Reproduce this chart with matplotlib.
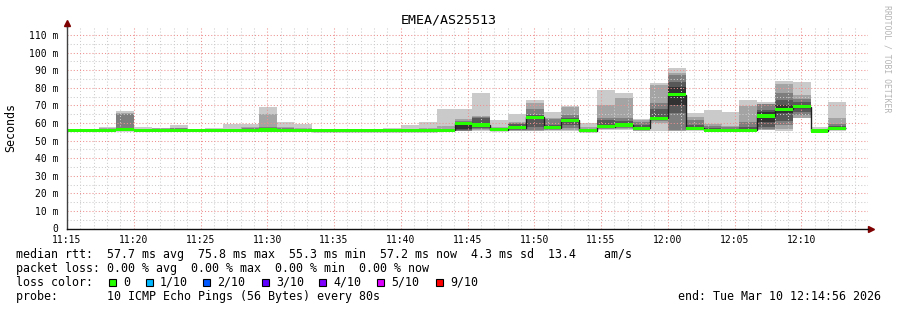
#SmokePing style latency graph for EMEA/AS25513, redrawn with matplotlib.

#importing all libraries which will be used.
import numpy as np
import matplotlib
matplotlib.use("Agg")
import matplotlib.pyplot as plt
from matplotlib.patches import Rectangle
from matplotlib.ticker import MultipleLocator, FixedLocator, FuncFormatter

#The data.
title = "EMEA/AS25513"
first_bin = "11:14:42"
step_seconds = 80

#10 sorted ping rtts (ms) for every 80 s bin.
ping_rtt = [
    [55.4, 55.5, 55.6, 55.7, 55.8, 55.8, 55.9, 56.0, 56.1, 56.2],
    [55.3, 55.4, 55.5, 55.6, 55.7, 55.8, 55.9, 56.0, 56.2, 56.8],
    [55.4, 55.5, 55.6, 55.7, 55.8, 55.9, 56.2, 56.8, 57.3, 57.6],
    [55.2, 55.5, 55.7, 55.9, 56.0, 56.2, 57.0, 64.9, 65.8, 66.8],
    [55.4, 55.5, 55.6, 55.7, 55.8, 55.9, 56.0, 56.3, 56.8, 57.7],
    [55.4, 55.5, 55.6, 55.7, 55.8, 55.9, 56.1, 56.6, 57.1, 57.3],
    [55.4, 55.5, 55.6, 55.7, 55.8, 55.9, 56.1, 56.9, 57.4, 58.8],
    [55.4, 55.5, 55.6, 55.7, 55.8, 55.8, 55.9, 56.0, 56.1, 56.2],
    [55.3, 55.4, 55.5, 55.6, 55.7, 55.8, 55.9, 56.1, 56.5, 57.3],
    [55.3, 55.4, 55.5, 55.6, 55.7, 55.8, 55.9, 56.2, 56.8, 59.4],
    [55.4, 55.5, 55.6, 55.7, 55.8, 55.9, 56.1, 56.9, 57.6, 59.4],
    [55.3, 55.5, 55.6, 55.7, 55.8, 56.0, 56.5, 57.7, 65.0, 69.0],
    [55.3, 55.4, 55.6, 55.7, 55.8, 55.9, 56.2, 57.0, 57.7, 60.5],
    [55.3, 55.4, 55.5, 55.6, 55.7, 55.8, 56.0, 56.5, 57.0, 59.4],
    [55.3, 55.4, 55.5, 55.6, 55.7, 55.7, 55.8, 55.9, 56.0, 56.1],
    [55.3, 55.4, 55.5, 55.6, 55.7, 55.7, 55.8, 55.9, 56.0, 56.1],
    [55.3, 55.4, 55.5, 55.6, 55.7, 55.7, 55.8, 55.9, 56.0, 56.2],
    [55.3, 55.4, 55.5, 55.6, 55.7, 55.7, 55.8, 55.9, 56.1, 56.7],
    [55.3, 55.4, 55.5, 55.6, 55.7, 55.7, 55.8, 56.0, 56.3, 57.0],
    [55.3, 55.4, 55.5, 55.6, 55.7, 55.8, 55.9, 56.2, 56.8, 58.8],
    [55.3, 55.4, 55.5, 55.6, 55.7, 55.8, 56.0, 56.5, 57.0, 60.5],
    [55.3, 55.4, 55.5, 55.6, 55.7, 55.8, 56.1, 56.8, 58.5, 67.9],
    [55.2, 55.4, 55.6, 56.0, 56.5, 60.2, 60.5, 61.0, 62.0, 67.9],
    [55.4, 55.8, 56.3, 56.9, 58.5, 59.2, 62.6, 63.3, 63.9, 77.0],
    [55.3, 55.5, 55.8, 56.0, 56.2, 56.5, 57.0, 57.3, 57.6, 61.6],
    [55.4, 55.7, 56.0, 56.5, 57.0, 57.6, 59.5, 60.0, 60.5, 65.2],
    [55.4, 55.7, 56.2, 57.8, 62.5, 63.8, 64.5, 68.0, 71.3, 73.0],
    [55.5, 56.0, 56.5, 57.0, 57.2, 57.5, 59.0, 62.0, 63.0, 66.2],
    [55.5, 56.0, 57.0, 58.8, 61.0, 62.0, 63.0, 64.5, 69.2, 69.6],
    [55.2, 55.4, 55.5, 55.6, 55.7, 55.9, 56.2, 56.8, 57.5, 59.8],
    [55.8, 56.5, 57.0, 57.5, 57.8, 58.5, 61.5, 63.0, 70.2, 78.7],
    [56.0, 56.5, 57.0, 57.6, 58.2, 59.2, 61.0, 63.0, 74.3, 76.8],
    [55.5, 55.7, 56.0, 56.3, 56.6, 57.6, 59.0, 60.7, 61.5, 62.2],
    [55.4, 59.8, 61.0, 61.8, 62.4, 63.2, 67.9, 71.5, 81.5, 82.7],
    [55.5, 55.7, 56.0, 65.5, 70.2, 80.6, 83.4, 87.2, 88.2, 91.2],
    [55.5, 55.8, 56.0, 56.3, 56.6, 57.5, 59.0, 61.5, 63.5, 65.5],
    [55.2, 55.4, 55.5, 55.6, 55.7, 55.9, 57.0, 58.5, 59.2, 67.3],
    [55.2, 55.4, 55.5, 55.6, 55.7, 55.9, 56.5, 57.5, 58.5, 66.2],
    [55.3, 55.5, 55.6, 55.7, 55.8, 56.0, 57.5, 60.7, 69.8, 73.0],
    [55.8, 56.0, 56.5, 57.8, 60.7, 66.0, 67.5, 70.6, 71.0, 71.7],
    [55.6, 56.3, 58.8, 61.0, 65.5, 70.0, 73.0, 76.8, 82.1, 83.8],
    [62.6, 63.0, 64.5, 66.0, 68.5, 70.0, 72.0, 73.4, 75.9, 83.0],
    [55.2, 55.3, 55.4, 55.5, 55.5, 55.6, 55.7, 55.9, 56.5, 57.8],
    [55.5, 55.8, 56.2, 56.5, 56.8, 57.3, 58.0, 59.2, 63.0, 72.0],
]

median_rtt = [
    55.8, 55.8, 55.8, 56.1, 55.8, 55.8, 55.8, 55.8, 55.8, 55.8,
    55.8, 55.9, 55.8, 55.8, 55.7, 55.7, 55.7, 55.7, 55.7, 55.7,
    55.7, 55.8, 59.8, 58.8, 56.2, 57.3, 63.2, 57.3, 61.5, 55.7,
    57.9, 58.8, 57.0, 62.7, 76.0, 57.0, 55.8, 55.8, 55.8, 63.9,
    67.8, 69.3, 55.5, 57.0,
]

time_labels = ["11:15", "11:20", "11:25", "11:30", "11:35", "11:40",
               "11:45", "11:50", "11:55", "12:00", "12:05", "12:10"]

loss_labels = ["0", "1/10", "2/10", "3/10", "4/10", "5/10", "9/10"]
loss_colors = ["#26ff00", "#00b8ff", "#0059ff", "#5e00ff", "#7e00ff", "#dd00ff", "#ff0000"]

legend_rtt = "median rtt:  57.7 ms avg  75.8 ms max  55.3 ms min  57.2 ms now  4.3 ms sd  13.4    am/s"
legend_loss = "packet loss: 0.00 % avg  0.00 % max  0.00 % min  0.00 % now"
legend_probe = "probe:       10 ICMP Echo Pings (56 Bytes) every 80s"
legend_end = "end: Tue Mar 10 12:14:56 2026"

#smoke colours, outer band first
smoke_colors = ["#cacaca", "#a4a4a4", "#7e7e7e", "#585858", "#323232"]

W, H = 897, 310
MONO = "DejaVu Sans Mono"

#bin edges in minutes after 11:15
hh, mm, ss = [int(v) for v in first_bin.split(":")]
start_min = (hh * 60 + mm + ss / 60.0) - (11 * 60 + 15)
edges = start_min + np.arange(len(median_rtt) + 1) * step_seconds / 60.0

pings = np.array(ping_rtt)
median = np.array(median_rtt)

fig = plt.figure(figsize=(W / 100, H / 100), dpi=100)
fig.patch.set_facecolor("white")

ax_left, ax_right, ax_top, ax_bottom = 67, 868, 26.7, 228.5
ax = fig.add_axes([ax_left / W, 1 - ax_bottom / H,
                   (ax_right - ax_left) / W, (ax_bottom - ax_top) / H])

#smoke bands
for i in range(5):
    ax.stairs(pings[:, 9 - i], edges, baseline=pings[:, i], fill=True,
              color=smoke_colors[i], lw=0, zorder=2)

#grid lines over the smoke, like rrdtool
ax.set_xlim(0, 60)
ax.set_ylim(0, 114.7)
ax.xaxis.set_major_locator(MultipleLocator(5))
ax.xaxis.set_minor_locator(MultipleLocator(1))
ax.yaxis.set_major_locator(MultipleLocator(10))
ax.yaxis.set_minor_locator(MultipleLocator(5))
ax.grid(True, which="minor", color="#cccccc", lw=0.75, ls=(0, (1, 2)), zorder=3)
ax.grid(True, which="major", color="#ee9090", lw=0.75, ls=(0, (1, 2)), zorder=3)
ax.set_axisbelow(False)

#median line and the loss coloured band on top
ax.stairs(median, edges, baseline=None, color="#202020", lw=1.0, zorder=4)
ax.stairs(median + 0.95, edges, baseline=median - 0.95, fill=True,
          color=loss_colors[0], lw=0, zorder=5)

ax.xaxis.set_major_locator(FixedLocator(np.arange(len(time_labels)) * 5))
ax.set_xticklabels(time_labels)
ax.yaxis.set_major_formatter(FuncFormatter(lambda v, p: "0" if v == 0 else "%d m" % v))
ax.tick_params(which="both", length=0)
ax.tick_params(axis="y", pad=6, labelsize=7)
ax.tick_params(axis="x", pad=4.5, labelsize=7)
for lab in ax.get_xticklabels() + ax.get_yticklabels():
    lab.set_family(MONO)

for side in ["top", "right"]:
    ax.spines[side].set_visible(False)
ax.spines["left"].set_color("#404040")
ax.spines["bottom"].set_color("#101010")
ax.spines["left"].set_linewidth(1.0)
ax.spines["bottom"].set_linewidth(1.0)
ax.spines["left"].set_zorder(6)
ax.spines["bottom"].set_zorder(6)

#axis arrows
ax.plot([1.0, 1.004], [0, 0], color="#101010", lw=1.0, transform=ax.transAxes, clip_on=False)
ax.plot([1.004], [0], marker=">", ms=4, color="#7f0000", transform=ax.transAxes, clip_on=False)
ax.plot([0, 0], [1.0, 1.02], color="#404040", lw=1.0, transform=ax.transAxes, clip_on=False)
ax.plot([0], [1.02], marker="^", ms=4, color="#7f0000", transform=ax.transAxes, clip_on=False)

#titles
fig.text(0.5, 1 - 20 / H, title, ha="center", va="center", family=MONO, fontsize=9.6)
fig.text(11 / W, 1 - 127 / H, "Seconds", ha="center", va="center", rotation=90,
         family=MONO, fontsize=8.4)
fig.text(887 / W, 1 - 59 / H, "RRDTOOL / TOBI OETIKER", ha="center", va="center",
         rotation=270, family=MONO, fontsize=5.9, color="#b4b4b4")

#legend rows
x0 = 16 / W
fig.text(x0, 1 - 254.7 / H, legend_rtt, ha="left", va="center", family=MONO, fontsize=8.4)
fig.text(x0, 1 - 268.3 / H, legend_loss, ha="left", va="center", family=MONO, fontsize=8.4)
fig.text(x0, 1 - 282.3 / H, "loss color:", ha="left", va="center", family=MONO, fontsize=8.4)
box_x = [109, 146, 203, 262, 319, 377, 436]
for bx, lab, col in zip(box_x, loss_labels, loss_colors):
    fig.patches.append(Rectangle((bx / W, 1 - 286 / H), 7 / W, 7 / H, facecolor=col,
                                 edgecolor="black", lw=0.8, transform=fig.transFigure,
                                 figure=fig))
    fig.text((bx + 14) / W, 1 - 282.3 / H, lab, ha="left", va="center",
             family=MONO, fontsize=8.4)
fig.text(x0, 1 - 296.3 / H, legend_probe, ha="left", va="center", family=MONO, fontsize=8.4)
fig.text(881 / W, 1 - 296.3 / H, legend_end, ha="right", va="center", family=MONO, fontsize=8.4)

fig.savefig("out.png", dpi=100)
